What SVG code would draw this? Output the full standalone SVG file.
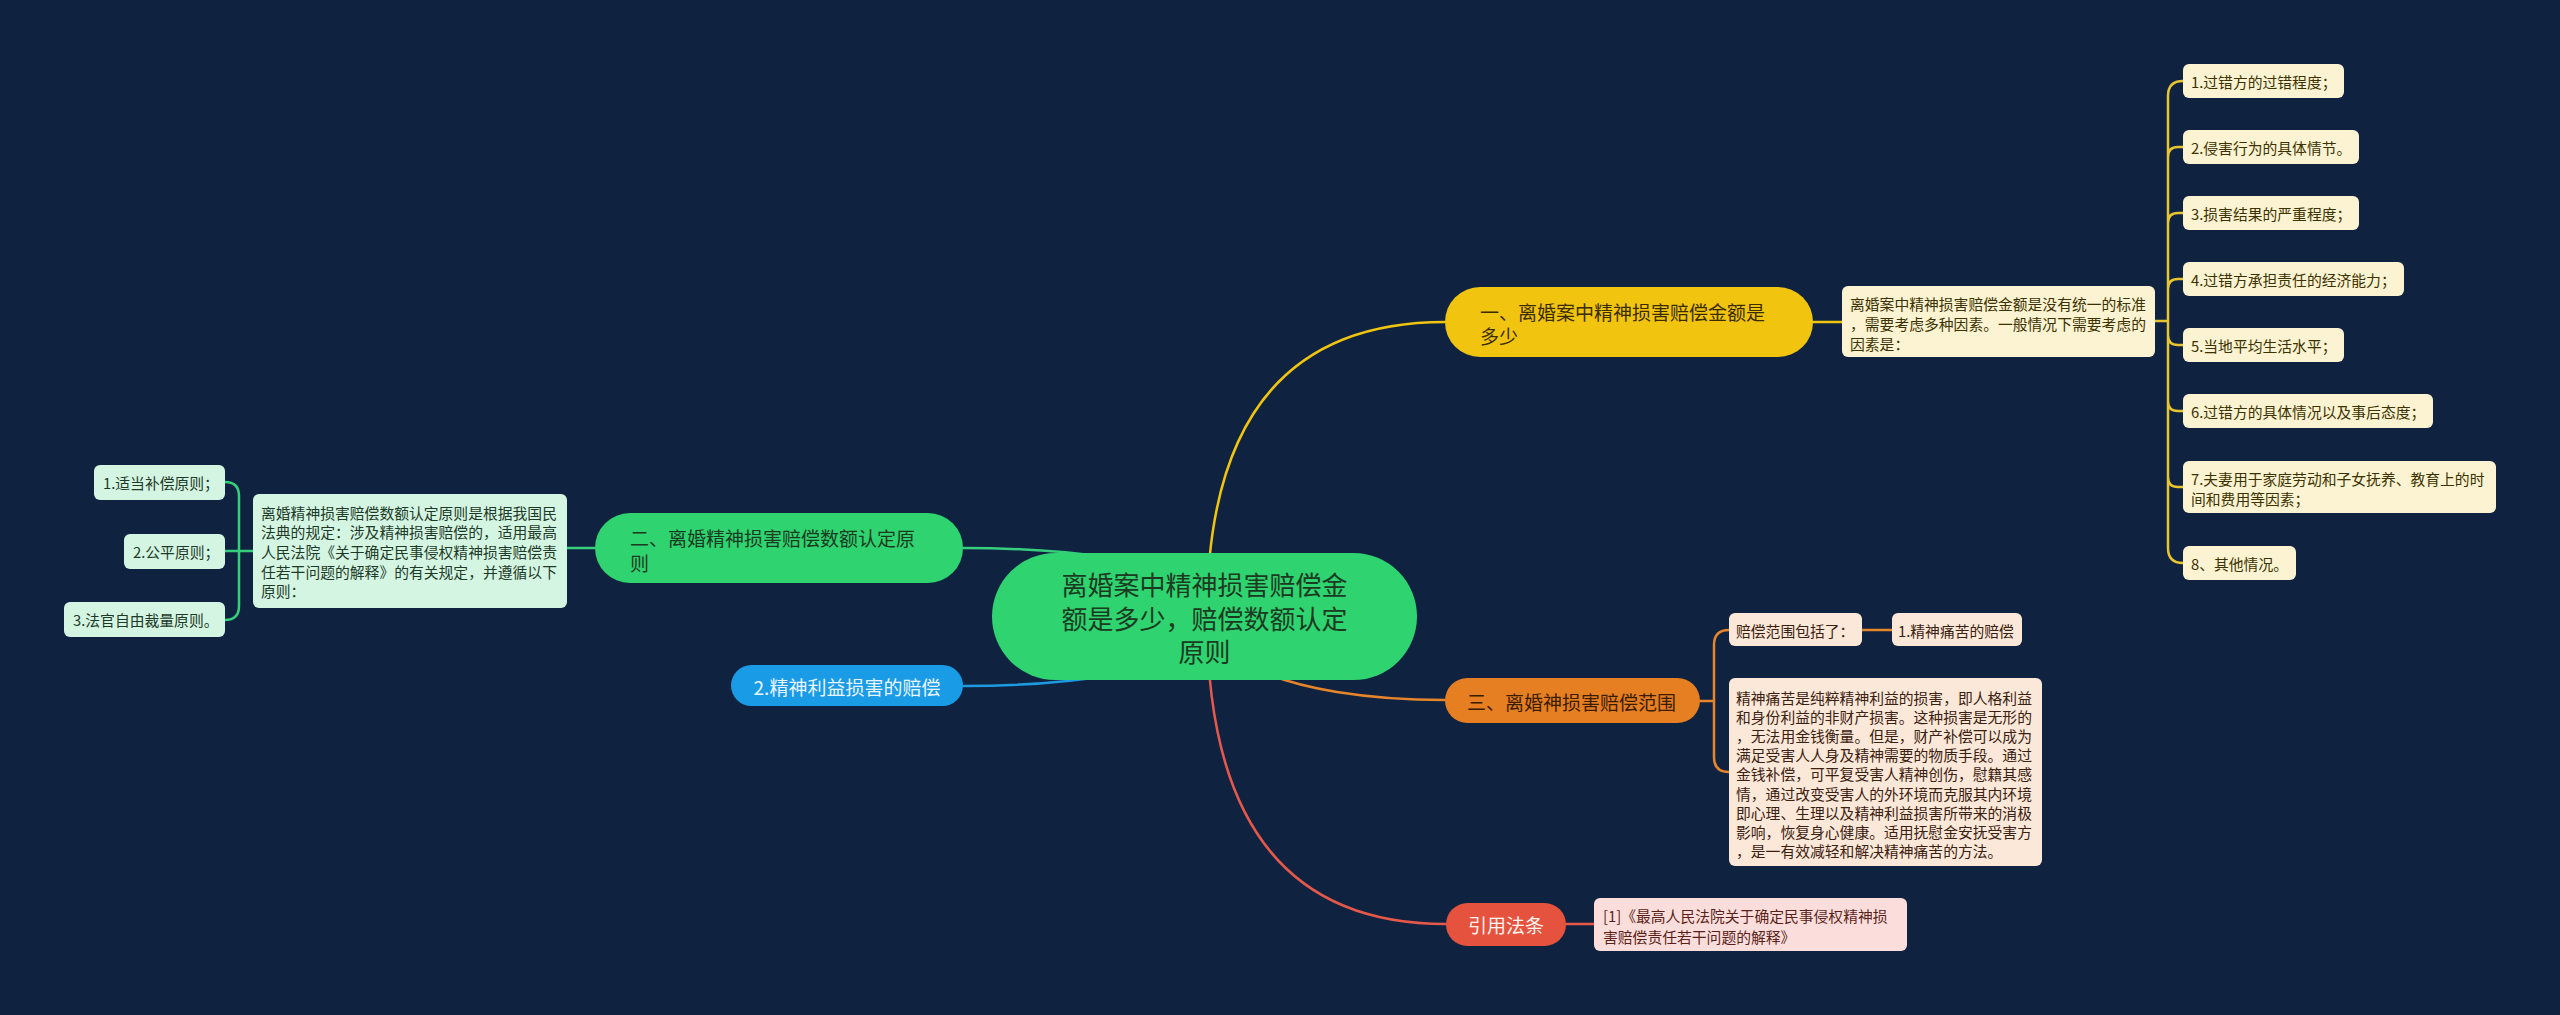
<svg xmlns="http://www.w3.org/2000/svg" width="2560" height="1015" viewBox="0 0 2560 1015">
<style>
text{font-family:"Noto Sans CJK SC","Noto Sans",sans-serif;dominant-baseline:central}
.c{fill:none;stroke-width:2.5;stroke-linecap:round}
.sm{font-size:14.8px}
.mid{font-size:19px}
</style>
<rect x="0" y="0" width="2560" height="1015" fill="#0f2341"/>
<g id="connectors">
<path class="c" stroke="#f1c40f" d="M1207,616 Q1207,322 1445,322"/>
<path class="c" stroke="#35cf7c" d="M1110,558 C1060,550 1010,548 963,548"/>
<path class="c" stroke="#1d9be0" d="M1110,675 C1060,684 1010,686 963,686"/>
<path class="c" stroke="#e6852a" d="M1240,660 C1290,692 1380,700 1445,700"/>
<path class="c" stroke="#e5584a" d="M1207,616 Q1207,924 1446,924"/>
<path class="c" stroke="#f1c40f" d="M1813,322 L1842,322"/>
<path class="c" stroke="#e8c530" d="M2155,321 L2168,321 M2183,81 Q2168,81 2168,96 L2168,548 Q2168,563 2183,563 M2168,157 Q2168,147 2178,147 L2183,147 M2168,223 Q2168,213 2178,213 L2183,213 M2168,289 Q2168,279 2178,279 L2183,279 M2168,335 Q2168,345 2178,345 L2183,345 M2168,401 Q2168,411 2178,411 L2183,411 M2168,477 Q2168,487 2178,487 L2183,487"/>
<path class="c" stroke="#35cf7c" d="M567,548 L595,548 M253,551 L225,551 M225,482 Q239,482 239,496 L239,606 Q239,620 225,620"/>
<path class="c" stroke="#e6852a" d="M1700,701 L1714,701 M1729,630 Q1714,630 1714,645 L1714,757 Q1714,772 1729,772 M1862,630 L1892,630"/>
<path class="c" stroke="#e5584a" d="M1566,924 L1594,924"/>
</g>
<g id="center">
<rect x="992" y="553" width="425" height="127" rx="63.5" fill="#2fd36f"/>
<text x="1204.5" y="583" font-size="26" fill="#1b3a22" text-anchor="middle">离婚案中精神损害赔偿金</text>
<text x="1204.5" y="617" font-size="26" fill="#1b3a22" text-anchor="middle">额是多少，赔偿数额认定</text>
<text x="1204.5" y="650" font-size="26" fill="#1b3a22" text-anchor="middle">原则</text>
</g>
<g id="n1">
<rect x="1445" y="287" width="368" height="70" rx="35" fill="#f1c40f"/>
<text class="mid" x="1480" y="311" fill="#3b2d00">一、离婚案中精神损害赔偿金额是</text>
<text class="mid" x="1480" y="335" fill="#3b2d00">多少</text>
</g>
<g id="n1desc">
<rect x="1842" y="286" width="313" height="71" rx="6" fill="#fcf3d2"/>
<text class="sm" x="1850" y="303" fill="#3b3200">离婚案中精神损害赔偿金额是没有统一的标准</text>
<text class="sm" x="1850" y="323" fill="#3b3200">，需要考虑多种因素。一般情况下需要考虑的</text>
<text class="sm" x="1850" y="343" fill="#3b3200">因素是：</text>
</g>
<g id="r1"><rect x="2183" y="64" width="161" height="34" rx="6" fill="#fcf3d2"/><text class="sm" x="2191" y="81" fill="#3b3200">1.过错方的过错程度；</text></g>
<g id="r2"><rect x="2183" y="130" width="176" height="34" rx="6" fill="#fcf3d2"/><text class="sm" x="2191" y="147" fill="#3b3200">2.侵害行为的具体情节。</text></g>
<g id="r3"><rect x="2183" y="196" width="176" height="34" rx="6" fill="#fcf3d2"/><text class="sm" x="2191" y="213" fill="#3b3200">3.损害结果的严重程度；</text></g>
<g id="r4"><rect x="2183" y="262" width="221" height="34" rx="6" fill="#fcf3d2"/><text class="sm" x="2191" y="279" fill="#3b3200">4.过错方承担责任的经济能力；</text></g>
<g id="r5"><rect x="2183" y="328" width="161" height="34" rx="6" fill="#fcf3d2"/><text class="sm" x="2191" y="345" fill="#3b3200">5.当地平均生活水平；</text></g>
<g id="r6"><rect x="2183" y="394" width="250" height="34" rx="6" fill="#fcf3d2"/><text class="sm" x="2191" y="411" fill="#3b3200">6.过错方的具体情况以及事后态度；</text></g>
<g id="r7"><rect x="2183" y="461" width="313" height="52" rx="6" fill="#fcf3d2"/><text class="sm" x="2191" y="478" fill="#3b3200">7.夫妻用于家庭劳动和子女抚养、教育上的时</text><text class="sm" x="2191" y="498" fill="#3b3200">间和费用等因素；</text></g>
<g id="r8"><rect x="2183" y="546" width="113" height="34" rx="6" fill="#fcf3d2"/><text class="sm" x="2191" y="563" fill="#3b3200">8、其他情况。</text></g>
<g id="n2">
<rect x="595" y="513" width="368" height="70" rx="35" fill="#2fd36f"/>
<text class="mid" x="630" y="537" fill="#1b3a22">二、离婚精神损害赔偿数额认定原</text>
<text class="mid" x="630" y="562" fill="#1b3a22">则</text>
</g>
<g id="n2desc">
<rect x="253" y="494" width="314" height="114" rx="6" fill="#d5f5e3"/>
<text class="sm" x="261" y="512" fill="#1d3a28">离婚精神损害赔偿数额认定原则是根据我国民</text>
<text class="sm" x="261" y="531.5" fill="#1d3a28">法典的规定：涉及精神损害赔偿的，适用最高</text>
<text class="sm" x="261" y="551" fill="#1d3a28">人民法院《关于确定民事侵权精神损害赔偿责</text>
<text class="sm" x="261" y="571" fill="#1d3a28">任若干问题的解释》的有关规定，并遵循以下</text>
<text class="sm" x="261" y="590.5" fill="#1d3a28">原则：</text>
</g>
<g id="l1"><rect x="94" y="465" width="131" height="35" rx="6" fill="#d5f5e3"/><text class="sm" x="103" y="482.5" fill="#1d3a28">1.适当补偿原则；</text></g>
<g id="l2"><rect x="124" y="534" width="101" height="35" rx="6" fill="#d5f5e3"/><text class="sm" x="133" y="551.5" fill="#1d3a28">2.公平原则；</text></g>
<g id="l3"><rect x="64" y="602" width="161" height="35" rx="6" fill="#d5f5e3"/><text class="sm" x="73" y="619.5" fill="#1d3a28">3.法官自由裁量原则。</text></g>
<g id="n4">
<rect x="731" y="665" width="232" height="41" rx="20.5" fill="#1a9be6"/>
<text class="mid" x="847" y="686" fill="#eaf6ff" text-anchor="middle">2.精神利益损害的赔偿</text>
</g>
<g id="n3">
<rect x="1445" y="678" width="255" height="45" rx="22.5" fill="#e67e22"/>
<text class="mid" x="1467" y="701" fill="#3a1c00">三、离婚神损害赔偿范围</text>
</g>
<g id="n3a"><rect x="1729" y="613" width="133" height="33" rx="6" fill="#fce8d8"/><text class="sm" x="1736" y="630" fill="#3a2010">赔偿范围包括了：</text></g>
<g id="n3b"><rect x="1892" y="613" width="130" height="33" rx="6" fill="#fce8d8"/><text class="sm" x="1898" y="630" fill="#3a2010">1.精神痛苦的赔偿</text></g>
<g id="n3c">
<rect x="1729" y="678" width="313" height="188" rx="6" fill="#fce8d8"/>
<text class="sm" x="1736" y="697" fill="#3a2010">精神痛苦是纯粹精神利益的损害，即人格利益</text>
<text class="sm" x="1736" y="716.2" fill="#3a2010">和身份利益的非财产损害。这种损害是无形的</text>
<text class="sm" x="1736" y="735.4" fill="#3a2010">，无法用金钱衡量。但是，财产补偿可以成为</text>
<text class="sm" x="1736" y="754.6" fill="#3a2010">满足受害人人身及精神需要的物质手段。通过</text>
<text class="sm" x="1736" y="773.8" fill="#3a2010">金钱补偿，可平复受害人精神创伤，慰籍其感</text>
<text class="sm" x="1736" y="793" fill="#3a2010">情，通过改变受害人的外环境而克服其内环境</text>
<text class="sm" x="1736" y="812.2" fill="#3a2010">即心理、生理以及精神利益损害所带来的消极</text>
<text class="sm" x="1736" y="831.4" fill="#3a2010">影响，恢复身心健康。适用抚慰金安抚受害方</text>
<text class="sm" x="1736" y="850.6" fill="#3a2010">，是一有效减轻和解决精神痛苦的方法。</text>
</g>
<g id="n5">
<rect x="1446" y="903" width="120" height="43" rx="21.5" fill="#e5533f"/>
<text class="mid" x="1506" y="924.5" fill="#fff3f0" text-anchor="middle">引用法条</text>
</g>
<g id="n5desc">
<rect x="1594" y="898" width="313" height="53" rx="6" fill="#fbdedb"/>
<text class="sm" x="1603" y="915" fill="#5a1f1a">[1]《最高人民法院关于确定民事侵权精神损</text>
<text class="sm" x="1603" y="936" fill="#5a1f1a">害赔偿责任若干问题的解释》</text>
</g>
</svg>
